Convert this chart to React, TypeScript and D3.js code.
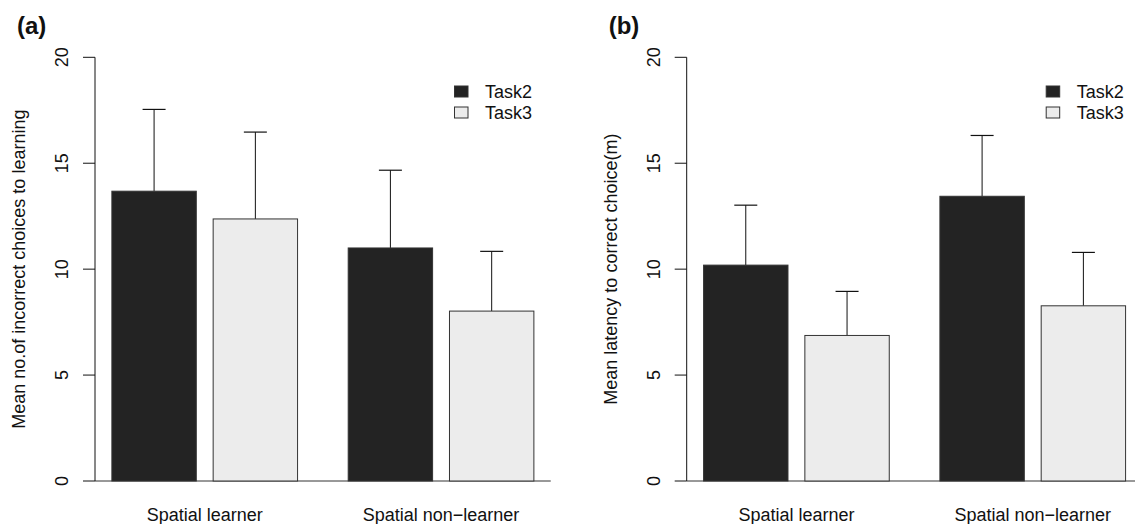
import React, { useEffect, useRef } from "react";
import * as d3 from "d3";

const groups = ["Spatial learner", "Spatial non\u2212learner"];
const tasks = ["Task2", "Task3"];
const taskColors = ["#232323", "#ececec"];

// panel (a): mean no. of incorrect choices
const errorsMean = [
  [13.68, 12.37],
  [11.0, 8.02],
];
const errorsUpper = [
  [17.54, 16.47],
  [14.67, 10.84],
];

// panel (b): mean latency
const latencyMean = [
  [10.19, 6.87],
  [13.44, 8.27],
];
const latencyUpper = [
  [13.02, 8.95],
  [16.31, 10.79],
];

const yTicks = [0, 5, 10, 15, 20];

const panels = [
  { tag: "(a)", ylab: "Mean no.of incorrect choices to learning", mean: errorsMean, upper: errorsUpper, left: 95 },
  { tag: "(b)", ylab: "Mean latency to correct choice(m)", mean: latencyMean, upper: latencyUpper, left: 686.7 },
];

const App = () => {
  const ref = useRef(null);

  useEffect(() => {
    const width = 1135;
    const height = 524;
    const font = "Liberation Sans, Arial, Helvetica, sans-serif";
    const unit = 84.4; // px per bar width

    d3.select(ref.current).selectAll("*").remove();

    const svg = d3
      .select(ref.current)
      .append("svg")
      .attr("width", width)
      .attr("height", height)
      .style("position", "absolute")
      .style("left", 0)
      .style("top", 0)
      .style("font-family", font);

    const y = d3.scaleLinear().domain([0, 20]).range([481, 57.3]);

    panels.forEach((p) => {
      // R barplot layout: space 0.6 between groups, 0.2 inside a group
      const x = d3
        .scaleLinear()
        .domain([0.4, 5.8])
        .range([p.left, p.left + 5.4 * unit]);
      const g = svg.append("g");

      // bar left positions in bar units
      const barLeft = (gi, ti) => 0.6 + gi * 2.8 + ti * 1.2;

      // baseline
      g.append("line")
        .attr("x1", x(0.4))
        .attr("x2", x(5.8))
        .attr("y1", y(0))
        .attr("y2", y(0))
        .attr("stroke", "#333")
        .attr("stroke-width", 1);

      groups.forEach((grp, gi) => {
        tasks.forEach((t, ti) => {
          const x0 = x(barLeft(gi, ti));
          const x1 = x(barLeft(gi, ti) + 1);
          const v = p.mean[gi][ti];
          const u = p.upper[gi][ti];
          const cx = (x0 + x1) / 2;

          g.append("line")
            .attr("x1", cx)
            .attr("x2", cx)
            .attr("y1", y(v))
            .attr("y2", y(u))
            .attr("stroke", "#111")
            .attr("stroke-width", 1);
          g.append("line")
            .attr("x1", cx - 11.5)
            .attr("x2", cx + 11.5)
            .attr("y1", y(u))
            .attr("y2", y(u))
            .attr("stroke", "#111")
            .attr("stroke-width", 1.2);

          g.append("rect")
            .attr("x", x0)
            .attr("y", y(v))
            .attr("width", x1 - x0)
            .attr("height", y(0) - y(v))
            .attr("fill", taskColors[ti])
            .attr("stroke", "#333")
            .attr("stroke-width", 1);
        });

        g.append("text")
          .attr("x", x(barLeft(gi, 0) + 1.1))
          .attr("y", 521)
          .attr("text-anchor", "middle")
          .style("font-size", "18px")
          .attr("fill", "#111")
          .text(grp);
      });

      // y axis
      g.append("line")
        .attr("x1", p.left)
        .attr("x2", p.left)
        .attr("y1", y(0))
        .attr("y2", y(20))
        .attr("stroke", "#111");
      yTicks.forEach((t) => {
        g.append("line")
          .attr("x1", p.left - 12)
          .attr("x2", p.left)
          .attr("y1", y(t))
          .attr("y2", y(t))
          .attr("stroke", "#111");
        g.append("text")
          .attr("transform", `translate(${p.left - 27},${y(t)}) rotate(-90)`)
          .attr("text-anchor", "middle")
          .style("font-size", "18px")
          .attr("fill", "#111")
          .text(t);
      });

      // y label
      g.append("text")
        .attr("transform", `translate(${p.left - 70},${(y(0) + y(20)) / 2}) rotate(-90)`)
        .attr("text-anchor", "middle")
        .style("font-size", "18px")
        .attr("fill", "#111")
        .text(p.ylab);

      // panel tag
      g.append("text")
        .attr("x", p.left - 78)
        .attr("y", 34)
        .style("font-size", "24px")
        .style("font-weight", "bold")
        .attr("fill", "#111")
        .text(p.tag);

      // legend
      tasks.forEach((t, ti) => {
        g.append("rect")
          .attr("x", p.left + 359.5)
          .attr("y", 86 + ti * 21)
          .attr("width", 13.5)
          .attr("height", 11)
          .attr("fill", taskColors[ti])
          .attr("stroke", "#333");
        g.append("text")
          .attr("x", p.left + 390)
          .attr("y", 97.5 + ti * 21)
          .style("font-size", "18px")
          .attr("fill", "#111")
          .text(t);
      });
    });
  }, []);

  return <div ref={ref}></div>;
};

export default App;
